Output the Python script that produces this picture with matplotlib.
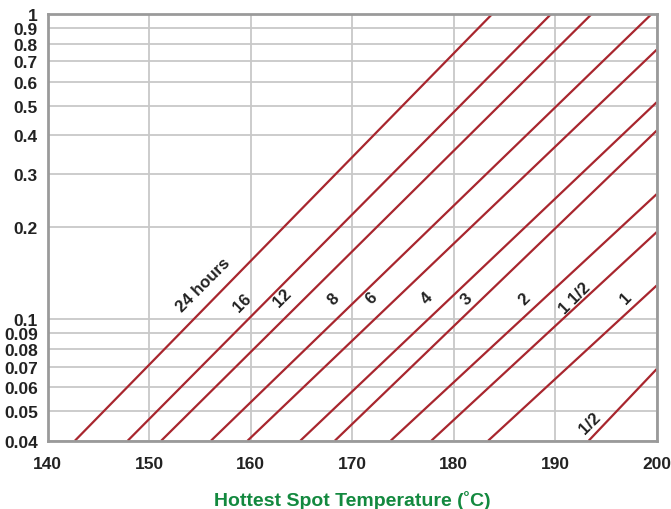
import numpy as np
import matplotlib.pyplot as plt
from matplotlib.ticker import FixedLocator, NullLocator

# curve end points: temperature where each line leaves y=0.04,
# and (temperature, value) where it meets the top or the right edge
hours = ["24 hours", "16", "12", "8", "6", "4", "3", "2", "1 1/2", "1", "1/2"]
t_start = [142.7, 147.9, 151.2, 156.1, 159.7, 164.9, 168.3, 173.8, 177.8, 183.4, 193.3]
t_end = [183.8, 189.6, 193.6, 199.5, 200, 200, 200, 200, 200, 200, 200]
y_end = [1.0, 1.0, 1.0, 1.0, 0.764, 0.514, 0.415, 0.257, 0.193, 0.129, 0.0687]

# label anchors
lab_t = [155.3, 159.2, 163.1, 168.2, 171.9, 177.4, 181.3, 187.0, 191.9, 197.0, 193.4]
lab_y = [0.130, 0.114, 0.118, 0.1165, 0.118, 0.118, 0.1165, 0.1165, 0.118, 0.118, 0.0457]

yticks = [0.04, 0.05, 0.06, 0.07, 0.08, 0.09, 0.1, 0.2, 0.3, 0.4, 0.5, 0.6, 0.7, 0.8, 0.9, 1]
ylabels = ["0.04", "0.05", "0.06", "0.07", "0.08", "0.09", "0.1", "0.2", "0.3",
           "0.4", "0.5", "0.6", "0.7", "0.8", "0.9", "1"]
xticks = [140, 150, 160, 170, 180, 190, 200]

plt.rcParams['font.family'] = ['Liberation Sans', 'DejaVu Sans']

fig = plt.figure(figsize=(6.71, 5.10), dpi=100)
ax = fig.add_axes([0.0708, 0.1339, 0.9079, 0.8367])

red = "#a8262e"
for i in range(len(hours)):
    ax.plot([t_start[i], t_end[i]], [0.04, y_end[i]], color=red, lw=1.6,
            solid_capstyle="butt", zorder=3)
    ax.text(lab_t[i], lab_y[i], hours[i], rotation=45, ha="center", va="center",
            fontsize=12, fontweight="bold", color="#222222", zorder=4)

ax.set_yscale("log")
ax.set_xlim(140, 200)
ax.set_ylim(0.04, 1)
ax.yaxis.set_major_locator(FixedLocator(yticks))
ax.yaxis.set_minor_locator(NullLocator())
ax.set_yticklabels(ylabels)
ax.set_xticks(xticks)

ax.grid(True, color="#c8c8c8", lw=1.3, zorder=0)
ax.tick_params(length=0, labelsize=12.5, colors="#222222")
for lab in ax.get_xticklabels() + ax.get_yticklabels():
    lab.set_fontweight("bold")
ax.tick_params(axis="x", pad=11)
ax.tick_params(axis="y", pad=7)

for s in ax.spines.values():
    s.set_color("#9a9a9a")
    s.set_linewidth(2)
    s.set_zorder(5)

ax.set_xlabel("Hottest Spot Temperature (˚C)", fontsize=14, fontweight="bold",
              color="#13893f", labelpad=14)

fig.savefig("out.png", dpi=100)
